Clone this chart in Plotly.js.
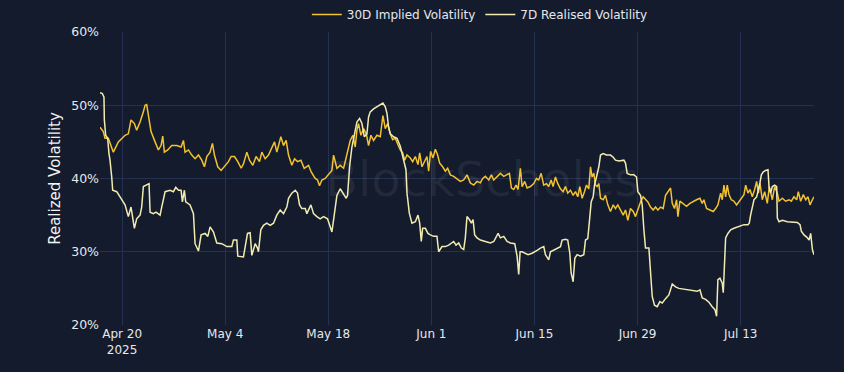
<!DOCTYPE html>
<html>
<head>
<meta charset="utf-8">
<script src="https://cdn.plot.ly/plotly-3.0.1.min.js"></script>
<style>
  html, body { margin: 0; padding: 0; background: #131b2d; }
  #chart { width: 844px; height: 372px; }
</style>
</head>
<body>
<div id="chart"></div>
<script>
// Series start date (day offsets below are days after this date)
const startDate = "2025-04-17";

// 30D Implied Volatility (day offset, %)
const ivDays = [0.00,0.45,0.68,1.13,1.81,2.49,3.40,3.85,4.21,4.67,4.98,5.44,5.89,6.12,6.34,6.57,6.93,7.48,7.93,8.29,8.52,8.74,9.20,9.74,10.42,11.01,11.33,11.55,12.01,12.46,12.91,13.37,13.82,14.18,14.50,14.95,15.27,15.54,15.99,16.45,16.99,17.44,17.81,18.26,18.71,19.17,
19.48,19.94,20.30,20.75,21.20,21.66,21.98,22.43,22.88,23.33,23.70,24.01,24.56,24.92,25.28,25.60,26.05,26.42,26.82,27.28,27.73,28.32,28.68,29.22,29.54,29.81,30.13,30.58,31.04,31.49,31.72,32.17,32.62,33.08,33.44,33.76,33.98,34.34,34.66,34.89,35.11,35.43,35.79,36.16,36.47,36.79,37.15,37.61,38.06,38.42,38.74,39.06,39.42,
39.74,40.10,40.46,40.78,41.10,41.37,41.69,42.14,42.46,42.82,43.18,43.41,43.72,44.09,44.40,44.63,44.90,45.22,45.54,45.85,46.13,46.53,46.90,47.21,47.58,48.03,48.48,48.93,49.39,49.84,50.29,50.75,51.20,51.65,51.97,52.33,52.79,53.15,53.47,53.92,54.37,54.83,55.28,55.60,55.87,56.18,56.50,56.77,57.09,57.32,57.68,58.00,
58.45,58.90,59.27,59.58,59.90,60.26,60.62,60.94,61.26,61.53,61.85,62.17,62.53,62.89,63.21,63.52,63.89,64.25,64.57,64.88,65.16,65.47,65.79,66.06,66.38,66.61,66.83,67.06,67.29,67.51,67.74,67.97,68.33,68.64,68.96,69.32,69.69,70.00,70.32,70.68,71.05,71.36,71.68,72.04,72.41,72.72,73.04,73.40,73.76,74.08,74.40,74.76,75.12,75.44,75.76,76.12,76.48,76.80,77.12,77.39,
77.48,77.71,78.02,78.30,78.48,78.75,79.20,79.65,80.11,80.56,81.01,81.47,81.78,82.01,82.37,82.83,83.28,83.60,83.91,84.28,84.50,84.73,84.96,85.18,85.41,85.73,86.09,86.45,86.77,87.09,87.45,87.68,87.99,88.26,88.58,88.90,89.17,89.40,89.62,89.94,90.26,90.62,90.89,91.30,91.62,91.98,92.21,92.66,93.11,93.57,93.88,94.24,94.61,94.83,95.15,95.51,95.83,96.15,96.42,96.74,96.96];
const ivVals = [47.0,46.4,45.5,45.5,43.6,45.0,45.9,46.1,48.0,47.5,46.6,47.7,49.1,50.0,50.1,48.4,46.4,45.0,43.9,44.5,45.8,43.6,43.9,44.5,44.5,44.3,45.2,43.6,43.9,43.2,42.7,43.2,42.5,41.6,43.0,43.6,44.8,43.2,41.6,41.1,41.7,42.3,43.0,43.0,42.3,41.4,
42.0,43.6,42.5,41.8,43.0,42.3,43.6,42.7,43.2,44.3,45.0,43.6,45.7,44.5,45.2,43.2,41.8,42.7,42.3,42.5,41.4,41.8,40.9,40.0,39.8,39.0,39.8,40.0,40.5,41.1,43.2,41.4,41.8,41.4,42.9,44.3,45.2,45.9,44.3,46.6,47.5,45.9,46.8,46.1,44.5,45.9,45.2,45.9,45.7,48.6,46.8,47.5,46.1,
45.3,45.5,44.6,43.9,43.5,42.5,43.2,42.8,42.3,43.0,41.9,43.5,41.6,42.5,43.0,41.0,43.7,42.8,44.0,43.2,42.1,41.6,41.0,41.4,40.5,40.3,40.0,39.6,39.8,40.5,39.4,39.1,39.6,39.4,40.0,40.3,39.8,40.5,39.8,40.3,40.7,40.3,40.5,40.7,38.7,38.5,39.1,38.5,41.4,38.9,39.6,38.7,
38.9,39.3,40.0,39.8,40.7,39.1,39.3,38.9,39.8,38.9,40.2,39.3,38.6,38.2,38.9,38.0,38.4,37.7,38.2,37.5,38.9,37.3,38.2,39.1,38.6,41.6,40.2,40.7,39.1,38.9,39.3,37.3,37.1,37.7,36.4,35.5,36.4,35.9,36.4,35.7,35.0,35.7,34.3,35.9,35.5,34.8,35.7,36.8,37.5,37.1,36.8,36.1,35.7,36.1,35.7,36.1,35.9,37.7,38.2,38.6,
38.7,36.6,35.9,37.1,34.8,36.9,36.6,36.2,36.6,36.9,37.1,37.3,36.6,37.1,35.9,35.7,35.5,35.9,36.4,38.0,37.1,39.1,37.5,39.1,37.8,37.1,36.9,36.4,36.9,37.3,37.8,39.1,38.0,38.5,37.5,38.5,39.6,38.0,39.4,37.1,38.2,36.6,38.9,37.1,38.9,38.0,36.9,37.3,36.9,37.1,36.9,37.5,37.1,38.2,36.9,37.8,37.1,37.5,36.4,37.1,37.5];

// 7D Realised Volatility (day offset, %)
const rvDays = [0.00,0.32,0.54,0.59,0.77,1.04,1.22,1.36,1.59,1.72,2.27,2.58,2.95,3.40,3.85,4.21,4.67,4.98,5.44,5.66,5.89,6.34,6.66,6.80,7.25,7.61,8.16,8.38,8.84,9.52,9.97,10.29,10.65,11.01,11.19,11.46,11.64,12.23,12.69,12.91,13.37,13.73,14.27,14.64,14.95,15.41,15.86,16.54,16.99,17.22,17.90,18.12,18.58,18.71,
19.48,19.71,20.03,20.39,20.62,21.07,21.39,21.52,21.84,22.20,22.65,23.11,23.56,24.01,24.47,24.92,25.37,25.60,26.05,26.51,26.82,27.10,27.41,27.87,28.09,28.64,29.00,29.45,29.90,30.36,30.90,31.26,31.49,31.81,32.17,32.62,32.99,33.44,33.62,33.89,34.21,34.53,34.89,35.25,35.57,35.89,36.25,36.47,36.70,37.15,37.61,38.06,38.42,38.74,38.97,39.19,39.42,
39.87,40.33,40.78,41.01,41.37,41.55,41.69,42.00,42.36,42.82,43.18,43.41,43.63,43.81,44.18,44.54,44.86,45.31,45.76,45.99,46.44,46.90,47.35,47.71,48.03,48.35,48.71,49.07,49.39,49.61,49.84,50.16,50.43,50.66,50.88,51.20,51.65,52.33,53.01,53.47,53.83,54.06,54.37,54.83,55.28,55.73,56.32,56.64,56.86,57.05,57.32,57.68,58.13,58.68,
58.90,59.36,59.81,60.26,60.49,60.94,61.17,61.62,62.07,62.53,62.75,63.21,63.52,63.80,63.98,64.25,64.48,64.79,65.25,65.70,65.93,66.24,66.52,66.70,66.97,67.15,67.42,67.74,67.97,68.33,68.78,69.32,69.69,70.00,70.46,71.14,71.36,71.59,72.04,72.50,72.86,73.04,73.40,73.63,73.86,74.08,74.54,74.76,74.99,75.30,75.67,76.03,76.35,76.80,77.25,77.71,
78.16,78.61,79.29,79.97,80.65,81.10,81.47,81.78,82.24,82.69,83.14,83.51,83.73,83.91,84.19,84.50,84.64,84.82,84.96,85.27,85.64,86.09,86.77,87.45,87.99,88.17,88.35,88.58,88.81,89.17,89.35,89.62,89.81,90.08,90.39,90.71,90.85,91.07,91.30,91.62,91.89,91.98,92.21,92.66,93.34,94.02,94.70,95.06,95.24,95.60,95.97,96.29,96.51,96.74,96.96];
const rvVals = [51.7,51.6,51.1,48.0,45.9,45.5,43.4,42.5,40.2,38.4,38.2,37.7,37.0,36.4,34.8,36.1,33.2,34.5,35.0,36.1,38.9,39.1,39.3,35.4,35.2,35.4,35.0,36.1,38.2,38.4,38.2,38.8,38.4,38.4,36.8,38.4,36.8,36.4,35.2,31.1,30.1,32.3,32.5,32.1,33.4,32.7,31.2,31.1,30.9,30.7,30.7,31.6,31.6,29.4,
29.3,30.7,32.5,32.6,29.5,31.1,30.5,30.0,33.0,33.6,33.9,33.6,33.9,35.0,35.7,35.2,36.1,37.3,38.0,38.4,38.0,36.4,35.9,35.9,35.2,36.4,35.2,34.8,34.5,34.8,34.5,33.4,32.7,35.0,37.7,38.6,38.0,37.3,37.7,41.6,44.3,46.1,47.7,48.2,47.5,45.7,46.1,48.4,49.1,49.5,49.8,50.0,50.3,49.8,48.9,47.0,46.1,
45.7,45.5,44.4,43.5,42.1,41.2,38.0,35.3,33.9,34.1,35.0,33.9,31.4,33.2,33.2,32.5,32.3,32.1,32.1,30.0,30.7,30.7,30.9,31.2,31.4,30.9,31.2,30.5,30.3,31.9,34.8,34.4,33.9,34.4,32.3,31.9,31.6,31.4,31.2,31.4,32.1,32.5,31.9,32.1,31.4,31.2,31.1,29.4,26.9,30.0,30.0,29.8,29.6,29.8,
29.9,30.2,30.5,30.7,29.6,28.9,30.0,30.2,30.5,30.7,31.6,31.7,31.6,29.8,27.1,25.9,29.1,29.6,29.4,29.6,31.6,31.8,34.8,36.8,37.5,39.1,40.2,41.6,43.2,43.4,43.2,43.2,42.9,42.5,42.4,42.5,42.1,40.7,40.5,40.5,40.2,38.2,37.7,36.4,33.0,30.5,30.5,27.1,23.9,22.7,22.5,23.2,23.0,23.6,24.1,25.6,
25.2,25.0,24.9,24.8,24.7,24.6,24.8,23.7,23.5,23.1,22.5,22.1,21.2,26.2,26.4,25.7,24.4,28.0,31.9,32.5,33.0,33.2,33.4,33.7,33.7,33.9,35.0,36.2,37.1,37.5,38.2,39.4,40.5,40.9,41.1,41.2,38.9,38.0,38.9,39.1,38.9,34.6,34.1,34.3,34.1,34.0,34.0,33.7,32.8,32.3,32.0,31.6,32.5,30.3,29.6];

const seriesNames = ["30D Implied Volatility", "7D Realised Volatility"];
const yTitle = "Realized Volatility";
const watermark = "BlockScholes";

function toDates(days) {
  const t0 = Date.parse(startDate + "T00:00:00Z");
  return days.map(d => new Date(t0 + d * 86400000).toISOString().slice(0, 19).replace("T", " "));
}

const traces = [
  { x: toDates(ivDays), y: ivVals, name: seriesNames[0], type: "scatter", mode: "lines",
    line: { color: "#f2c230", width: 1.5 } },
  { x: toDates(rvDays), y: rvVals, name: seriesNames[1], type: "scatter", mode: "lines",
    line: { color: "#f1ebb0", width: 1.5 } }
];

const fam = "DejaVu Sans, Verdana, sans-serif";
const layout = {
  width: 844, height: 372,
  paper_bgcolor: "#131b2d",
  plot_bgcolor: "#131b2d",
  margin: { l: 100, r: 30, t: 32, b: 47, autoexpand: false },
  font: { family: fam, color: "#e6e8ee", size: 12 },
  showlegend: true,
  legend: { orientation: "h", x: 0.532, xanchor: "center", y: 1.01, yanchor: "bottom",
            font: { family: fam, size: 12, color: "#e6e8ee" }, bgcolor: "rgba(0,0,0,0)",
            itemwidth: 30, tracegroupgap: 0 },
  xaxis: {
    type: "date",
    tick0: "2025-04-20", dtick: 14 * 86400000,
    showgrid: true, gridcolor: "#243150", gridwidth: 1,
    zeroline: false, showline: false,
    tickfont: { family: fam, size: 12, color: "#e6e8ee" }
  },
  yaxis: {
    range: [20, 60], dtick: 10, ticksuffix: "%",
    showgrid: true, gridcolor: "#243150", gridwidth: 1,
    zeroline: false, showline: false,
    tickfont: { family: fam, size: 12.5, color: "#e6e8ee" },
    title: { text: yTitle, font: { family: fam, size: 15, color: "#f2f2f2" }, standoff: 6 }
  },
  annotations: [{
    text: watermark, xref: "paper", yref: "paper", x: 0.535, y: 0.5,
    xanchor: "center", yanchor: "middle", showarrow: false,
    font: { size: 48, color: "rgba(255,255,255,0.065)", family: fam }
  }]
};

Plotly.newPlot("chart", traces, layout, { displayModeBar: false, staticPlot: true });
</script>
</body>
</html>
